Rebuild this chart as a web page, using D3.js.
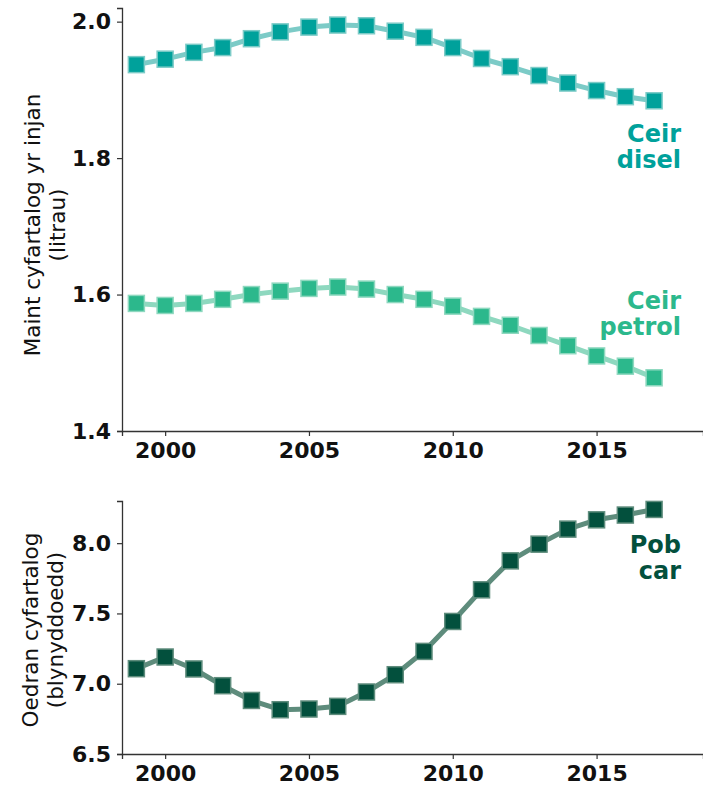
<!DOCTYPE html>
<html><head><meta charset="utf-8">
<script src="https://cdn.jsdelivr.net/npm/d3@7"></script>
<style>
html,body{margin:0;padding:0;background:#fff;}
svg{display:block;font-family:"DejaVu Sans",sans-serif;}
</style></head>
<body><svg id="c" width="703" height="789"></svg>
<script>
const years = [1999,2000,2001,2002,2003,2004,2005,2006,2007,2008,2009,2010,2011,2012,2013,2014,2015,2016,2017];
const dieselEngine = [1.937,1.945,1.955,1.962,1.975,1.985,1.992,1.995,1.994,1.986,1.977,1.962,1.946,1.934,1.921,1.910,1.899,1.890,1.884];
const petrolEngine = [1.587,1.584,1.587,1.593,1.600,1.605,1.609,1.611,1.608,1.600,1.593,1.583,1.568,1.555,1.540,1.525,1.510,1.495,1.478];
const allCarsAge = [7.107,7.190,7.105,6.986,6.881,6.815,6.820,6.839,6.941,7.064,7.230,7.443,7.668,7.874,7.993,8.100,8.166,8.200,8.240];
const xTicks = [2000,2005,2010,2015];
const topTicks = [1.4,1.6,1.8,2.0];
const bottomTicks = [6.5,7.0,7.5,8.0];

const svg = d3.select("#c");
const x = d3.scaleLinear().domain([1998.5, 2018.7]).range([122, 703]);
const yTop = d3.scaleLinear().domain([1.4, 2.02]).range([431, 8]);
const yBot = d3.scaleLinear().domain([6.5, 8.3]).range([754, 501]);

function axes(y, ticks, fmt, bottom) {
  const gx = svg.append("g").attr("transform", `translate(0,${bottom})`)
    .call(d3.axisBottom(x).tickValues(xTicks).tickFormat(d3.format("d")).tickSize(5).tickPadding(6));
  const gy = svg.append("g").attr("transform", `translate(122,0)`)
    .call(d3.axisLeft(y).tickValues(ticks).tickFormat(fmt).tickSize(5).tickPadding(6));
  [gx, gy].forEach(g => {
    g.select(".domain").attr("stroke", "#333").attr("stroke-width", 1.3);
    g.selectAll(".tick line").attr("stroke", "#333").attr("stroke-width", 1.2);
    g.selectAll(".tick text").attr("fill", "#111").style("font-size", "22px")
      .style("font-weight", "bold").style("font-family", "DejaVu Sans, sans-serif");
  });
  gx.selectAll(".tick text").attr("dy", "0.74em");
}

function series(y, vals, markColor, lineColor) {
  const line = d3.line().x((d, i) => x(years[i])).y(d => y(d));
  svg.append("path").datum(vals).attr("d", line).attr("fill", "none")
    .attr("stroke", lineColor).attr("stroke-width", 5).attr("stroke-linejoin", "round");
  svg.append("g").selectAll("rect").data(vals).join("rect")
    .attr("x", (d, i) => x(years[i]) - 8).attr("y", d => y(d) - 8)
    .attr("width", 16).attr("height", 16)
    .attr("fill", markColor).attr("stroke", lineColor).attr("stroke-width", 1.5);
}

function label(lines, xr, y0, color) {
  const t = svg.append("text").attr("text-anchor", "end").attr("fill", color)
    .style("font-size", "24px").style("font-weight", "bold");
  lines.forEach((l, i) => t.append("tspan").attr("x", xr).attr("y", y0 + i * 26).text(l));
}

function ylabel(lines, cx, cy) {
  const t = svg.append("text").attr("text-anchor", "middle").attr("fill", "#111")
    .attr("transform", `translate(${cx},${cy}) rotate(-90)`).style("font-size", "21.5px");
  lines.forEach((l, i) => t.append("tspan").attr("x", 0).attr("y", i * 25).text(l));
}

axes(yTop, topTicks, d3.format(".1f"), 431);
axes(yBot, bottomTicks, d3.format(".1f"), 754);

series(yTop, dieselEngine, "#00a19b", "#7ccbc7");
series(yTop, petrolEngine, "#2cb88c", "#8ed8bf");
series(yBot, allCarsAge, "#03503d", "#5e8c7c");

label(["Ceir", "disel"], 681, 142, "#00a19b");
label(["Ceir", "petrol"], 681, 309, "#2cb88c");
label(["Pob", "car"], 681, 553, "#03503d");

ylabel(["Maint cyfartalog yr injan", "(litrau)"], 40, 225);
ylabel(["Oedran cyfartalog", "(blynyddoedd)"], 38, 630);
</script></body></html>
